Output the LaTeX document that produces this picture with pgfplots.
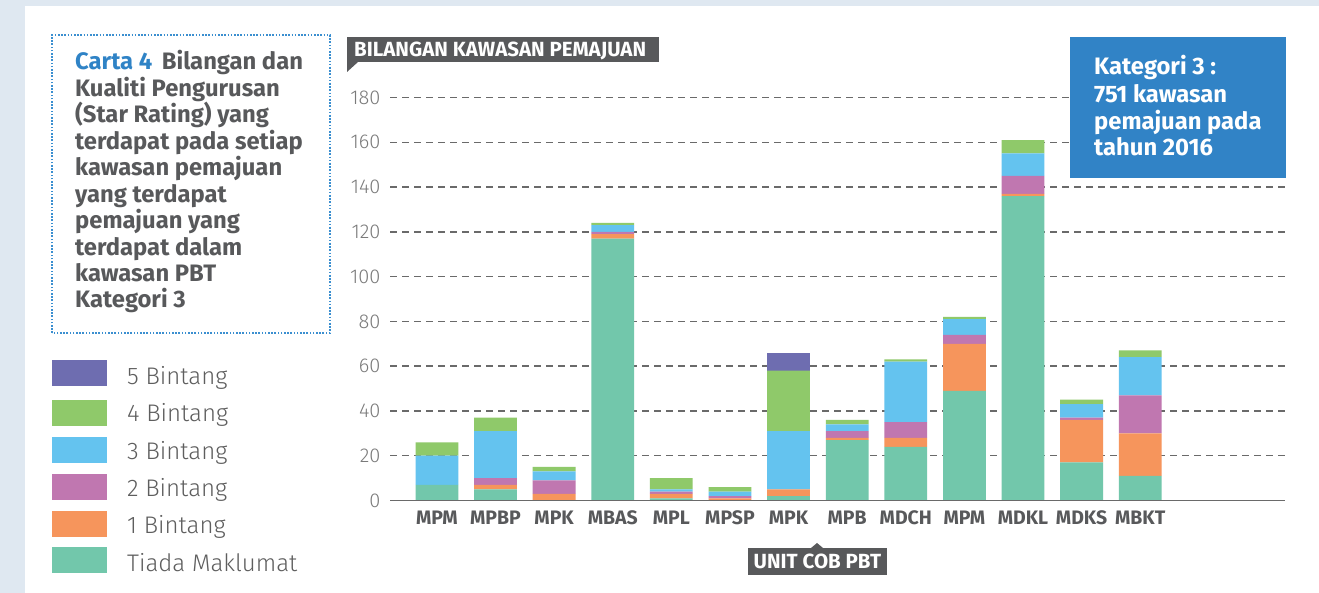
\documentclass[border=0pt]{standalone}
\usepackage{fontspec}
\setmainfont{Fira Sans}
\newfontfamily\lightfont{Fira Sans Light}
\usepackage{pgfplots}
\usepackage{pgfplotstable}
\pgfplotsset{compat=1.18}
\definecolor{cfive}{HTML}{6E6DB0}
\definecolor{cfour}{HTML}{8FC96A}
\definecolor{cthree}{HTML}{64C3EF}
\definecolor{ctwo}{HTML}{C077B0}
\definecolor{cone}{HTML}{F6955C}
\definecolor{ctiada}{HTML}{72C7AB}
\definecolor{bgblue}{HTML}{DFE8F1}
\definecolor{darkbox}{HTML}{58595B}
\definecolor{kblue}{HTML}{3183C6}
\definecolor{cartablue}{HTML}{2F83C6}
\definecolor{dotblue}{HTML}{3B8FD0}
\definecolor{gridgray}{HTML}{6A6A6A}
\definecolor{tickgray}{HTML}{7A7A7A}
\definecolor{labgray}{HTML}{58595B}
\definecolor{leggray}{HTML}{5E5E5E}

\pgfplotstableread{
i T B1 B2 B3 B4 B5
0 7 0 0 13 6 0
1 5 2 3 21 6 0
2 0 3 6 4 2 0
3 117 2 1 3 1 0
4 1 2 1 1 5 0
5 0 1 1 2 2 0
6 2 3 0 26 27 8
7 27 1 3 3 2 0
8 24 4 7 27 1 0
9 49 21 4 7 1 0
10 136 1 8 10 6 0
11 17 19 1 6 2 0
12 11 19 17 17 3 0
}\data

\begin{document}
\begin{tikzpicture}[x=1pt,y=1pt]
\fill[bgblue] (0,0) rectangle (1319,593);
\fill[white] (25,0) rectangle (1319,587);
\path[use as bounding box] (0,0) rectangle (1319,593);

\begin{axis}[
  at={(390pt,92.5pt)}, anchor=south west,
  scale only axis, width=895pt, height=403pt,
  xmin=-0.8, xmax=14.47, ymin=0, ymax=180,
  ybar stacked, bar width=0.73,
  axis line style={draw=none}, tick style={draw=none},
  ytick={0,20,...,180}, ymajorgrids,
  grid style={draw=gridgray, line width=1.4pt, dash pattern=on 7pt off 5pt},
  xtick={0,...,12},
  xticklabels={MPM,MPBP,MPK,MBAS,MPL,MPSP,MPK,MPB,MDCH,MPM,MDKL,MDKS,MBKT},
  x tick label style={font=\bfseries\fontsize{19.5}{21}\selectfont, text=labgray, yshift=-7pt},
  y tick label style={font=\lightfont\fontsize{20}{22}\selectfont, text=tickgray, xshift=-6pt},
  /pgf/number format/assume math mode=true,
  clip=false,
]
\draw[gridgray, line width=1.5pt] (axis cs:-0.8,0) -- (axis cs:14.47,0);
\addplot[fill=ctiada, draw=none] table[x=i,y=T]{\data};
\addplot[fill=cone, draw=none] table[x=i,y=B1]{\data};
\addplot[fill=ctwo, draw=none] table[x=i,y=B2]{\data};
\addplot[fill=cthree, draw=none] table[x=i,y=B3]{\data};
\addplot[fill=cfour, draw=none] table[x=i,y=B4]{\data};
\addplot[fill=cfive, draw=none] table[x=i,y=B5]{\data};
\end{axis}

% y axis title box
\fill[darkbox] (347,531) rectangle (659,556);
\fill[darkbox] (347,531) -- (347,521) -- (358,531) -- cycle;
\node[anchor=base west, inner sep=0, text=white, font=\bfseries\fontsize{20.5}{22}\selectfont] at (354,536.3) {BILANGAN KAWASAN PEMAJUAN};

% x axis title box
\fill[darkbox] (748,18) rectangle (887,45);
\fill[darkbox] (811,45) -- (817,50) -- (823,45) -- cycle;
\node[anchor=base, inner sep=0, text=white, font=\bfseries\fontsize{20.5}{22}\selectfont] at (817.5,24.7) {UNIT COB PBT};

% Kategori box
\fill[kblue] (1070,415) rectangle (1286,556);
\begin{scope}[every node/.style={anchor=base west, inner sep=0, text=white, font=\bfseries\fontsize{23.8}{26}\selectfont}]
\node at (1094,518) {Kategori 3 :};
\node at (1094,490.5) {751 kawasan};
\node at (1094,463.5) {pemajuan pada};
\node at (1094,437) {tahun 2016};
\end{scope}

% title box
\draw[dotblue, line width=1.8pt, dash pattern=on 1.6pt off 1.6pt] (52,260) rectangle (330,558);
\begin{scope}[every node/.style={anchor=base west, inner sep=0, text=labgray, font=\bfseries\fontsize{23.8}{26}\selectfont}]
\node at (75,523) {\textcolor{cartablue}{Carta 4}\ \,Bilangan dan};
\node at (75,496.5) {Kualiti Pengurusan};
\node at (75,470) {(Star Rating) yang};
\node at (75,443.5) {terdapat pada setiap};
\node at (75,417) {kawasan pemajuan};
\node at (75,390.5) {yang terdapat};
\node at (75,364) {pemajuan yang};
\node at (75,337.5) {terdapat dalam};
\node at (75,311) {kawasan PBT};
\node at (75,285) {Kategori 3};
\end{scope}

% legend
\begin{scope}[every node/.style={anchor=base west, inner sep=0, text=leggray, font=\lightfont\fontsize{24}{26}\selectfont}]
\fill[cfive] (52,207) rectangle (107,233); \node at (127,208.7) {5 Bintang};
\fill[cfour] (52,167.4) rectangle (107,193); \node at (127,171.3) {4 Bintang};
\fill[cthree] (52,130) rectangle (107,156); \node at (127,133.9) {3 Bintang};
\fill[ctwo] (52,93) rectangle (107,119); \node at (127,96.5) {2 Bintang};
\fill[cone] (52,56) rectangle (107,82); \node at (127,59.1) {1 Bintang};
\fill[ctiada] (52,20) rectangle (107,46); \node at (127,21.7) {Tiada Maklumat};
\end{scope}
\end{tikzpicture}
\end{document}
